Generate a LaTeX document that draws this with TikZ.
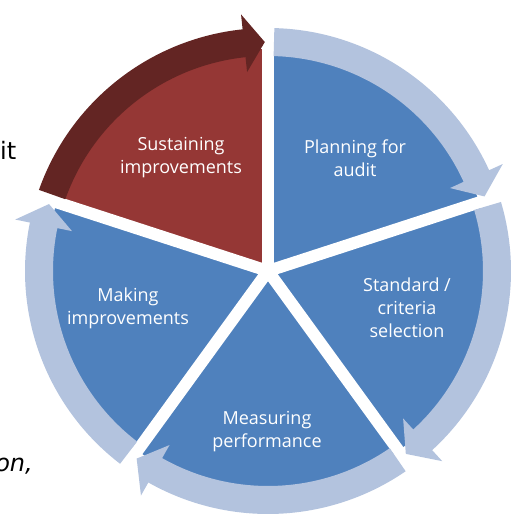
\documentclass[tikz,border=0pt]{standalone}
\usepackage{fontspec}
\usepackage{tikz}
\usepackage{xcolor}
\newfontfamily\labelfont{Open Sans}
\newfontfamily\pagefont{DejaVu Sans}
\definecolor{segblue}{HTML}{4F81BD}
\definecolor{ringblue}{HTML}{B3C3DE}
\definecolor{segred}{HTML}{953735}
\definecolor{ringred}{HTML}{632523}
\tikzset{
    segment-blue/.style = {fill=segblue},
    segment-red/.style = {fill=segred},
    ring-blue/.style = {fill=ringblue},
    ring-red/.style = {fill=ringred},
    gap-line/.style = {draw=white, line width=12pt},
    stage-label/.style = {text=white, align=center, font=\labelfont\fontsize{18}{23}\selectfont},
    page-text/.style = {font=\pagefont\fontsize{24}{28}\selectfont, inner sep=0pt},
}
% #1 style, #2 start angle, #3 head base, #4 tip
\newcommand{\cyclearrow}[4]{%
    \fill[#1] (#2:243) arc[start angle=#2, end angle=#3, radius=243] -- (#3:258) -- (#4:229)
        -- (#3:200) -- (#3:215) arc[start angle=#3, end angle=#2, radius=215] -- cycle;}

\begin{document}
\begin{tikzpicture}[x=1pt, y=1pt]
\useasboundingbox (0,0) rectangle (517,522);
\coordinate (hub) at (268,251);

\begin{scope}[shift={(hub)}]
% segments
\fill[segment-blue] (0,0) -- (90:222) arc[start angle=90, end angle=18, radius=222] -- cycle;
\fill[segment-blue] (0,0) -- (18:222) arc[start angle=18, end angle=-54, radius=222] -- cycle;
\fill[segment-blue] (0,0) -- (-54:222) arc[start angle=-54, end angle=-126, radius=222] -- cycle;
\fill[segment-blue] (0,0) -- (-126:222) arc[start angle=-126, end angle=-198, radius=222] -- cycle;
\fill[segment-red] (0,0) -- (162:222) arc[start angle=162, end angle=90, radius=222] -- cycle;
% gaps
\draw[gap-line] (0,0) -- (90:262);
\draw[gap-line] (0,0) -- (18:262);
\draw[gap-line] (0,0) -- (-54:262);
\draw[gap-line] (0,0) -- (-126:262);
\draw[gap-line] (0,0) -- (162:262);
% ring arrows
\cyclearrow{ring-blue}{88.5}{24.5}{19}
\cyclearrow{ring-blue}{16.5}{-47.5}{-53}
\cyclearrow{ring-blue}{-55.5}{-119.5}{-125}
\cyclearrow{ring-blue}{-127.5}{-191.5}{-197}
\cyclearrow{ring-red}{160.5}{96}{90.8}
\end{scope}

\node[stage-label] (planning) at (355,364) {Planning for\\audit};
\node[stage-label] (standard) at (407,214) {Standard /\\criteria\\selection};
\node[stage-label] (measuring) at (267,90) {Measuring\\performance};
\node[stage-label] (making) at (128,214) {Making\\improvements};
\node[stage-label] (sustaining) at (181,364) {Sustaining\\improvements};

\node[page-text, anchor=base west] (word-it) at (0,362) {it};
\node[page-text, anchor=base east] (word-on) at (33,50) {\itshape on,};
\end{tikzpicture}
\end{document}
